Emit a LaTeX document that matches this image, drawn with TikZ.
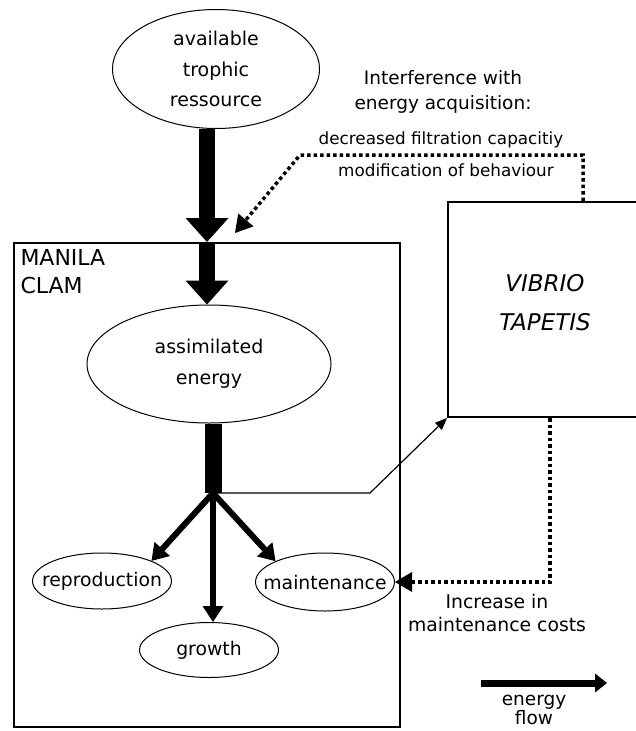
\documentclass[tikz,border=0pt]{standalone}
\usepackage{fontspec}
\setmainfont{DejaVu Sans}
\usetikzlibrary{arrows.meta,shapes.geometric,positioning,calc}

\begin{document}
\begin{tikzpicture}
[x=1pt, y=-1pt, line width=1pt,
bubble/.style={ellipse, draw, inner sep=0pt, align=center},
bigtxt/.style={font=\fontsize{19}{30.5}\selectfont},
smalltxt/.style={font=\fontsize{18.8}{23}\selectfont},
smallbubble/.style={bubble, smalltxt, inner xsep=-22pt, minimum width=139pt},
box/.style={rectangle, draw, line width=2pt, inner sep=0pt},
flow/.style={line width=16pt, -{Triangle[width=43pt,length=24pt,line width=0pt]}},
branch/.style={line width=6pt, -{Triangle[width=21pt,length=16pt,line width=0pt]}},
effect/.style={line width=3.5pt, dash pattern=on 3.5pt off 3pt, -{Triangle[width=20pt,length=17pt,line width=0pt]}}]

\useasboundingbox (0,0) rectangle (635,731);

\node[bubble, bigtxt, minimum width=207pt, minimum height=119pt] (food) at (216,69) {available\\trophic\\ressource};
\node[box, minimum width=386pt, minimum height=484pt] (clam) at (207,485) {};
\node[anchor=north west, inner sep=7pt, align=left, font=\fontsize{22}{28}\selectfont] (clamname) at (clam.north west) {MANILA\\CLAM};
\node[bubble, bigtxt, minimum width=244pt, minimum height=118pt] (asm) at (209,364) {assimilated\\energy};

\node[smallbubble, minimum height=56pt] (rep) at (102,581) {reproduction};
\node[smallbubble, minimum height=58pt] (maint) at (325,582) {maintenance};
\node[smallbubble, minimum height=55pt] (grow) at (209,650) {growth};

\node[box, minimum width=194pt, minimum height=215pt] (vib) at (545,309.5) {};
\node[align=center, font=\itshape\fontsize{23}{39}\selectfont] (vibname) at ($(vib.center)+(0,-7)$) {VIBRIO\\TAPETIS};

\draw[flow] (food.south -| clam.north) -- (clam.north);
\draw[flow] (clam.north) -- (clam.north |- asm.north);

\coordinate (fork) at (213,493);
\draw[line width=17pt] (asm.south -| fork) -- (fork);
\draw[branch] (fork) -- (rep.north east);
\draw[branch] (fork) -- (fork |- grow.north);
\draw[branch] (fork) -- (maint.north west);
\draw[line width=1.2pt, -{Triangle[width=10pt,length=12pt,line width=0pt]}] (fork) -- (370,493) -- (vib.south west);

\coordinate (acq) at (235,233);
\draw[effect] ($(vib.north)+(38,0)$) |- (300,155) -- (acq);
\draw[effect] ($(vib.south)+(5,0)$) |- (maint.east);

\node[align=center, font=\fontsize{18.5}{25}\selectfont] (interf) at (443,92) {Interference with\\energy acquisition:};
\node[font=\fontsize{16.8}{20}\selectfont] (filtr) at (441,140) {decreased filtration capacitiy};
\node[font=\fontsize{16.8}{20}\selectfont] (behav) at (446,170) {modification of behaviour};
\node[smalltxt, align=center] (costs) at (497,613) {Increase in\\maintenance costs};

\coordinate (leg0) at (481,683);
\coordinate (leg1) at (607,683);
\draw[line width=7pt, -{Triangle[width=19pt,length=12pt,line width=0pt]}] (leg0) -- (leg1);
\node[align=center, font=\fontsize{18.5}{19}\selectfont] (legtxt) at (534,710) {energy\\flow};
\end{tikzpicture}
\end{document}
